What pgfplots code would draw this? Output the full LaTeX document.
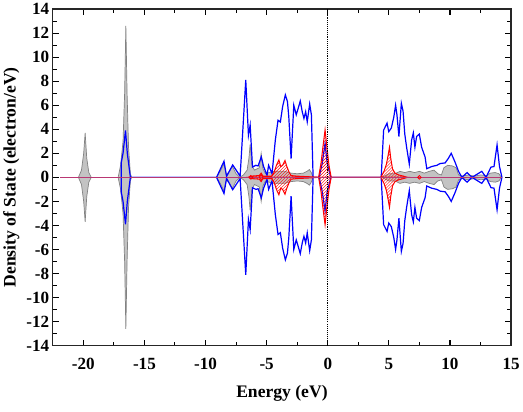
\documentclass[border=0pt]{standalone}
\usepackage{fontspec}
\setmainfont{Liberation Serif}
\usepackage{pgfplots}
\pgfplotsset{compat=1.18}
\usepackage{pgfplotstable}
\usetikzlibrary{patterns}

\definecolor{dosgray}{RGB}{195,195,195}
\definecolor{dosedge}{RGB}{130,130,130}
\definecolor{basecol}{RGB}{185,55,115}

% grey DOS, spin up / spin down
\pgfplotstableread{
x y
-20.40 0
-20.15 0.6
-19.97 2.0
-19.85 3.7
-19.72 1.6
-19.55 0.4
-19.35 0
-17.15 0
-16.95 1.0
-16.75 3.0
-16.62 7.0
-16.52 12.6
-16.42 7.0
-16.30 2.5
-16.15 0.3
-16.05 0
-9.10 0
-8.80 0.5
-8.50 1.1
-8.30 0.2
-8.05 0.5
-7.80 0.9
-7.50 0.3
-7.20 0
-6.90 0.2
-6.60 0.6
-6.45 1.6
-6.35 2.75
-6.20 1.0
-6.00 0.6
-5.80 0.7
-5.60 0.8
-5.45 2.0
-5.30 0.7
-5.10 0.3
-4.80 0.4
-4.40 0.5
-4.00 0.5
-3.50 0.5
-3.00 0.35
-2.50 0.3
-2.00 0.35
-1.70 0.5
-1.50 0.65
-1.35 0.4
-1.20 0
4.40 0
5.00 0.3
5.50 0.3
5.90 0.5
6.30 0.4
6.70 0.5
7.10 0.4
7.50 0.5
7.90 0.35
8.30 0.5
8.70 0.6
9.00 0.3
9.30 0.2
9.50 0.8
9.80 1.0
10.20 0.95
10.50 0.8
10.70 0.2
11.00 0.1
11.50 0.2
12.00 0.1
12.50 0.2
13.00 0.15
13.30 0.35
13.70 0.4
14.00 0.3
14.20 0
}\grayup

\pgfplotstableread{
x y
-20.40 0
-20.15 -0.6
-19.97 -2.0
-19.85 -3.7
-19.72 -1.6
-19.55 -0.4
-19.35 0
-17.15 0
-16.95 -1.0
-16.75 -3.0
-16.62 -7.0
-16.52 -12.6
-16.42 -7.0
-16.30 -2.5
-16.15 -0.3
-16.05 0
-9.10 0
-8.80 -0.5
-8.50 -1.1
-8.30 -0.2
-8.05 -0.5
-7.80 -0.9
-7.50 -0.3
-7.20 0
-6.90 -0.2
-6.60 -0.6
-6.45 -1.6
-6.35 -2.75
-6.20 -1.0
-6.00 -0.6
-5.80 -0.7
-5.60 -0.8
-5.45 -2.0
-5.30 -0.7
-5.10 -0.3
-4.80 -0.4
-4.40 -0.5
-4.00 -0.5
-3.50 -0.5
-3.00 -0.35
-2.50 -0.3
-2.00 -0.35
-1.70 -0.5
-1.50 -0.65
-1.35 -0.4
-1.20 0
4.40 0
5.00 -0.3
5.50 -0.3
5.90 -0.5
6.30 -0.4
6.70 -0.5
7.10 -0.4
7.50 -0.5
7.90 -0.35
8.30 -0.5
8.70 -0.6
9.00 -0.3
9.30 -0.2
9.50 -0.8
9.80 -1.0
10.20 -0.95
10.50 -0.8
10.70 -0.2
11.00 -0.1
11.50 -0.2
12.00 -0.1
12.50 -0.2
13.00 -0.15
13.30 -0.35
13.70 -0.4
14.00 -0.3
14.20 0
}\graydown

% blue total DOS, spin up / spin down
\pgfplotstableread{
x y
-16.90 0
-16.90 1.2
-16.75 2.0
-16.55 3.9
-16.40 2.0
-16.30 1.2
-16.15 0
-9.10 0
-8.49 1.34
-8.28 0.08
-7.78 1.03
-7.17 0.10
-6.71 8.10
-6.49 3.50
-6.35 4.35
-6.16 0.86
-5.88 1.00
-5.70 0.95
-5.44 1.70
-5.25 0.90
-4.97 0.17
-4.84 1.00
-4.56 0.30
-4.29 3.10
-4.07 4.75
-3.88 4.60
-3.69 5.90
-3.47 6.86
-3.30 6.30
-3.19 5.05
-3.00 1.56
-2.78 6.00
-2.58 5.20
-2.42 5.74
-2.25 6.35
-2.09 5.46
-1.95 4.90
-1.81 5.46
-1.68 4.62
-1.48 6.10
-1.34 5.20
-1.20 0
-0.70 0
-0.45 1.2
-0.22 2.8
-0.05 1.2
0.25 0
4.37 0
4.57 3.93
4.85 4.50
4.99 3.80
5.20 4.10
5.40 5.00
5.55 6.00
5.66 5.20
5.82 3.40
6.02 6.16
6.16 5.50
6.30 3.60
6.45 2.50
6.67 1.10
6.86 3.10
7.00 3.70
7.13 2.50
7.27 3.40
7.49 3.60
7.68 2.50
7.96 1.70
8.10 0.72
8.50 0.90
8.92 1.00
9.20 1.15
9.60 1.20
9.88 1.60
10.10 2.00
10.40 1.30
10.70 0.50
10.97 0
11.40 0.40
11.80 0
12.60 0.50
12.95 0
13.35 0.85
13.60 0.90
13.85 2.70
14.05 0.90
14.25 0
}\blueup

\pgfplotstableread{
x y
-16.90 0
-16.90 -1.2
-16.75 -2.0
-16.55 -3.9
-16.40 -2.0
-16.30 -1.2
-16.15 0
-9.10 0
-8.49 -1.34
-8.28 -0.08
-7.78 -1.03
-7.17 -0.10
-6.71 -8.10
-6.49 -3.50
-6.35 -4.35
-6.16 -0.86
-5.88 -1.00
-5.70 -0.95
-5.44 -1.70
-5.25 -0.90
-4.97 -0.17
-4.84 -1.00
-4.56 -0.30
-4.29 -3.10
-4.07 -4.75
-3.88 -4.60
-3.69 -5.90
-3.47 -6.86
-3.30 -6.30
-3.19 -5.05
-3.00 -1.56
-2.78 -6.00
-2.58 -5.20
-2.42 -5.74
-2.25 -6.35
-2.09 -5.46
-1.95 -4.90
-1.81 -5.46
-1.68 -4.62
-1.48 -6.10
-1.34 -5.20
-1.20 0
-0.70 0
-0.45 -1.2
-0.22 -2.8
-0.05 -1.2
0.25 0
4.37 0
4.57 -3.93
4.85 -4.50
4.99 -3.80
5.20 -4.10
5.40 -5.00
5.55 -6.00
5.66 -5.20
5.82 -3.40
6.02 -6.16
6.16 -5.50
6.30 -3.60
6.45 -2.50
6.67 -1.10
6.86 -3.10
7.00 -3.70
7.13 -2.50
7.27 -3.40
7.49 -3.60
7.68 -2.50
7.96 -1.70
8.10 -0.72
8.50 -0.90
8.92 -1.00
9.20 -1.15
9.60 -1.20
9.88 -1.60
10.10 -2.00
10.40 -1.30
10.70 -0.50
10.97 0
11.40 -0.40
11.80 0
12.60 -0.50
12.95 0
13.35 -0.85
13.60 -0.90
13.85 -2.70
14.05 -0.90
14.25 0
}\bluedown

% red hatched partial DOS, spin up / spin down
\pgfplotstableread{
x y
-6.50 0
-6.30 0.10
-5.60 0.15
-5.45 0.35
-5.30 0.10
-4.60 0.10
-4.40 0.40
-4.20 1.00
-4.00 1.45
-3.85 0.90
-3.70 1.00
-3.50 1.40
-3.35 0.90
-3.15 0.40
-3.00 0.15
-2.50 0.10
-1.50 0.05
-0.75 0
-0.55 1.2
-0.40 2.5
-0.22 3.95
-0.08 2.6
0.10 1.0
0.28 0
4.35 0
4.60 0.5
4.80 1.1
4.95 1.9
5.05 2.5
5.15 1.6
5.30 0.7
5.50 0.35
5.80 0.2
6.20 0.1
6.50 0
}\redup

\pgfplotstableread{
x y
-6.50 0
-6.30 -0.10
-5.60 -0.15
-5.45 -0.35
-5.30 -0.10
-4.60 -0.10
-4.40 -0.40
-4.20 -1.00
-4.00 -1.45
-3.85 -0.90
-3.70 -1.00
-3.50 -1.40
-3.35 -0.90
-3.15 -0.40
-3.00 -0.15
-2.50 -0.10
-1.50 -0.05
-0.75 0
-0.55 -1.2
-0.40 -2.5
-0.22 -3.95
-0.08 -2.6
0.10 -1.0
0.28 0
4.35 0
4.60 -0.5
4.80 -1.1
4.95 -1.9
5.05 -2.5
5.15 -1.6
5.30 -0.7
5.50 -0.35
5.80 -0.2
6.20 -0.1
6.50 0
}\reddown

\begin{document}
\begin{tikzpicture}
% declare the hatch pattern once before the axis
\fill[pattern=north east lines, pattern color=red] (0,0) rectangle (0.01pt,0.01pt);
\begin{axis}[
  scale only axis,
  width=456pt, height=335pt,
  xmin=-22.5, xmax=15, ymin=-14, ymax=14,
  xtick={-20,-15,...,15}, ytick={-14,-12,...,14},
  minor x tick num=1, minor y tick num=1,
  tick align=inside,
  xtick pos=both, ytick pos=both,
  major tick length=6pt, minor tick length=4pt,
  every tick/.style={black, line width=1pt},
  axis line style={line width=1.3pt, black!85},
  /pgf/number format/assume math mode=true,
  ticklabel style={font=\bfseries\fontsize{17}{17}\selectfont},
  xticklabel style={yshift=-9pt},
  label style={font=\bfseries\fontsize{17.5}{17.5}\selectfont},
  xlabel={Energy (eV)},
  ylabel={Density of State (electron/eV)},
  xlabel style={inner ysep=10pt, yshift=-2pt},
]
% element contribution (grey)
\addplot[draw=dosedge, fill=dosgray, line width=0.7pt] table[x=x,y=y] {\grayup} \closedcycle;
\addplot[draw=dosedge, fill=dosgray, line width=0.7pt] table[x=x,y=y] {\graydown} \closedcycle;
% total DOS (blue)
\addplot[blue, line width=1.2pt] table[x=x,y=y] {\blueup};
\addplot[blue, line width=1.2pt] table[x=x,y=y] {\bluedown};
% red hatched partial DOS
\addplot[red, line width=1pt, pattern=north east lines, pattern color=red] table[x=x,y=y] {\redup} \closedcycle;
\addplot[red, line width=1pt, pattern=north east lines, pattern color=red] table[x=x,y=y] {\reddown} \closedcycle;
% baseline
\addplot[basecol, line width=1.6pt] coordinates {(-21.9,0) (14.25,0)};
% small markers on the baseline
\addplot[only marks, red, mark=o, mark size=1.8pt, line width=0.8pt] coordinates {(-6.30,0) (7.50,0)};
\addplot[only marks, red, mark=diamond, mark size=2.4pt, line width=0.8pt] coordinates {(-5.45,0)};
% Fermi level
\addplot[black, densely dotted, line width=1.1pt] coordinates {(0,-14) (0,14)};
\end{axis}
\end{tikzpicture}
\end{document}
